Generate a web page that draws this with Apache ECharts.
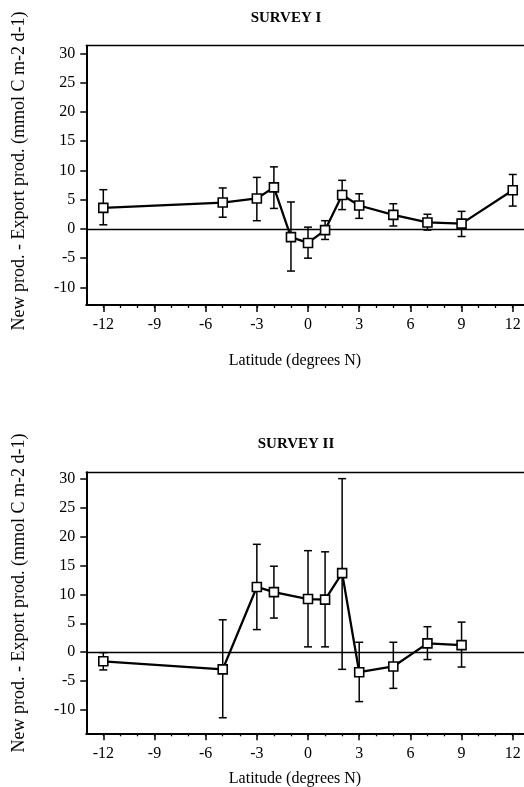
<!DOCTYPE html>
<html>
<head>
<meta charset="utf-8">
<script src="https://cdn.jsdelivr.net/npm/echarts@6/dist/echarts.min.js"></script>
<style>html,body{margin:0;padding:0;background:#fff}#c{width:524px;height:787px}</style>
</head>
<body>
<div id="c"></div>
<script>
// ---- data ----
const latTicks = [-12, -9, -6, -3, 0, 3, 6, 9, 12];
const latMinorTicks = [-12, -11, -10, -9, -8, -7, -6, -5, -4, -3, -2, -1, 0, 1, 2, 3, 4, 5, 6, 7, 8, 9, 10, 11, 12];
const valueTicks = [-10, -5, 0, 5, 10, 15, 20, 25, 30];

const lat1 = [-12, -5, -3, -2, -1, 0, 1, 2, 3, 5, 7, 9, 12];
const val1 = [3.6, 4.5, 5.2, 7.1, -1.4, -2.4, -0.2, 5.8, 4.0, 2.4, 1.1, 0.9, 6.6];
const lo1  = [0.7, 2.0, 1.4, 3.5, -7.2, -5.0, -1.8, 3.3, 1.8, 0.5, -0.2, -1.3, 3.9];
const hi1  = [6.7, 7.0, 8.8, 10.6, 4.6, 0.3, 1.4, 8.3, 6.0, 4.3, 2.5, 3.0, 9.3];

const lat2 = [-12, -5, -3, -2, 0, 1, 2, 3, 5, 7, 9];
const val2 = [-1.6, -3.0, 11.3, 10.4, 9.2, 9.1, 13.7, -3.5, -2.5, 1.5, 1.2];
const lo2  = [-3.1, -11.4, 3.9, 5.9, 0.9, 0.9, -3.0, -8.6, -6.3, -1.3, -2.6];
const hi2  = [-0.1, 5.6, 18.7, 14.9, 17.6, 17.4, 30.1, 1.7, 1.7, 4.4, 5.2];

const titles = ['SURVEY I', 'SURVEY II'];
const xTitle = 'Latitude (degrees N)';
const yTitle = 'New prod. - Export prod. (mmol C m-2 d-1)';

// ---- chart ----
const FONT = '"Liberation Serif", "Times New Roman", serif';
const chart = echarts.init(document.getElementById('c'), null, {renderer: 'canvas'});

const grids = [
  {left: 86.25, right: 0, top: 45.7, height: 259.3},
  {left: 86.25, right: 0, top: 472.3, height: 261}
];
const yRanges = [[-13, 31.3], [-14.1, 31.2]];
const xLabelMargin = [12, 12];

const xAxes = [], yAxes = [], series = [];
[0, 1].forEach(function (g) {
  xAxes.push({
    type: 'value', gridIndex: g, position: 'bottom', min: -13, max: 12.66,
    axisLine: {show: true, onZero: false, lineStyle: {color: '#000', width: 2}},
    axisTick: {show: true, inside: false, length: 3, customValues: latMinorTicks, lineStyle: {color: '#000', width: 1.3}},
    axisLabel: {show: true, customValues: latTicks, margin: xLabelMargin[g], color: '#000', fontSize: 16, fontFamily: FONT},
    splitLine: {show: false}
  });
  xAxes.push({
    type: 'value', gridIndex: g, position: 'bottom', min: -13, max: 12.66,
    axisLine: {show: false, onZero: false},
    axisTick: {show: true, inside: false, length: 7, customValues: latTicks, lineStyle: {color: '#000', width: 1.5}},
    axisLabel: {show: false},
    splitLine: {show: false}
  });
  xAxes.push({
    type: 'value', gridIndex: g, position: 'top', min: -13, max: 12.66,
    axisLine: {show: true, onZero: false, lineStyle: {color: '#000', width: 1.3}},
    axisTick: {show: false}, axisLabel: {show: false}, splitLine: {show: false}
  });
  yAxes.push({
    type: 'value', gridIndex: g, position: 'left', min: yRanges[g][0], max: yRanges[g][1],
    axisLine: {show: true, onZero: false, lineStyle: {color: '#000', width: 2}},
    axisTick: {show: true, inside: false, length: 6, customValues: valueTicks, lineStyle: {color: '#000', width: 1.5}},
    axisLabel: {show: true, customValues: valueTicks, margin: 11, color: '#000', fontSize: 16, fontFamily: FONT},
    splitLine: {show: false}
  });
});

function errData(lat, lo, hi) {
  return lat.map(function (x, i) { return [x, lo[i], hi[i]]; });
}
function errRender(params, api) {
  const x = api.value(0);
  const pLo = api.coord([x, api.value(1)]);
  const pHi = api.coord([x, api.value(2)]);
  const cap = 4;
  const st = {stroke: '#000', lineWidth: 1.5, fill: null};
  return {
    type: 'group',
    children: [
      {type: 'line', shape: {x1: pLo[0], y1: pLo[1], x2: pHi[0], y2: pHi[1]}, style: st},
      {type: 'line', shape: {x1: pLo[0] - cap, y1: pLo[1], x2: pLo[0] + cap, y2: pLo[1]}, style: st},
      {type: 'line', shape: {x1: pHi[0] - cap, y1: pHi[1], x2: pHi[0] + cap, y2: pHi[1]}, style: st}
    ]
  };
}

const sets = [[lat1, val1, lo1, hi1], [lat2, val2, lo2, hi2]];
sets.forEach(function (s, g) {
  const xi = g * 3;
  series.push({
    type: 'custom', xAxisIndex: xi, yAxisIndex: g, z: 2, silent: true,
    renderItem: errRender, data: errData(s[0], s[2], s[3]),
    encode: {x: 0, y: [1, 2]}
  });
  series.push({
    type: 'line', xAxisIndex: xi, yAxisIndex: g, z: 5, silent: true, animation: false,
    data: s[0].map(function (x, i) { return [x, s[1][i]]; }),
    symbol: 'rect', symbolSize: 9, showAllSymbol: true,
    lineStyle: {color: '#000', width: 2.3},
    itemStyle: {color: '#fff', borderColor: '#000', borderWidth: 1.6},
    markLine: {
      silent: true, symbol: 'none', animation: false,
      label: {show: false},
      lineStyle: {color: '#000', width: 1.3, type: 'solid'},
      data: [{yAxis: 0}]
    }
  });
});

const titleY = [18, 444];
const titleX = [286, 296];
const xTitleY = [361, 779];
const yTitleY = [171, 593];
const graphics = [];
[0, 1].forEach(function (g) {
  graphics.push({type: 'text', x: titleX[g], y: titleY[g],
    style: {text: titles[g], font: 'bold 15px ' + FONT, fill: '#000', textAlign: 'center', textVerticalAlign: 'middle'}});
  graphics.push({type: 'text', x: 295, y: xTitleY[g],
    style: {text: xTitle, font: '16px ' + FONT, fill: '#000', textAlign: 'center', textVerticalAlign: 'middle'}});
  graphics.push({type: 'text', x: 19, y: yTitleY[g], rotation: Math.PI / 2,
    style: {text: yTitle, font: '18px ' + FONT, fill: '#000', textAlign: 'center', textVerticalAlign: 'middle'}});
});

chart.setOption({
  animation: false,
  backgroundColor: '#fff',
  grid: grids,
  xAxis: xAxes,
  yAxis: yAxes,
  series: series,
  graphic: graphics
});
</script>
</body>
</html>
